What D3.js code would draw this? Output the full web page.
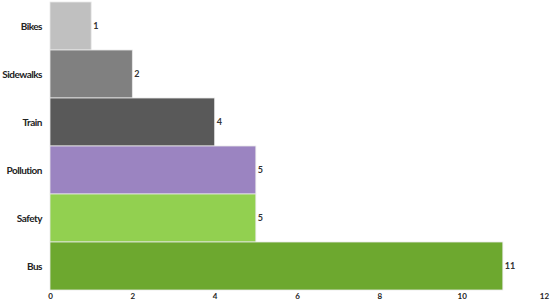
<!DOCTYPE html>
<html lang="en">
<head>
    <meta charset="UTF-8">
    <title>Bar Chart</title>
    <script src="https://d3js.org/d3.v7.min.js"></script>
    <style>
        body { margin: 0; background: #fff; font-family: Lato, "Open Sans", sans-serif; }
        svg { display: block; }
    </style>
</head>
<body>
    <svg id="chart" width="550" height="307"></svg>
    <script>
        const categories = ["Bikes", "Sidewalks", "Train", "Pollution", "Safety", "Bus"];
        const values = [1, 2, 4, 5, 5, 11];
        const colors = ["#c0c0c0", "#808080", "#595959", "#9b84c1", "#92d050", "#6da82f"];
        const xTicks = [0, 2, 4, 6, 8, 10, 12];

        const svg = d3.select("#chart");
        const plotLeft = 50, plotRight = 544, plotTop = 2, plotBottom = 290;

        const x = d3.scaleLinear().domain([0, 12]).range([plotLeft, plotRight]);
        const y = d3.scaleBand().domain(categories).range([plotTop, plotBottom]).padding(0);

        const data = categories.map((c, i) => ({ cat: c, value: values[i], color: colors[i] }));

        svg.selectAll("rect.bar")
            .data(data)
            .enter()
            .append("rect")
            .attr("class", "bar")
            .attr("x", x(0))
            .attr("y", d => y(d.cat))
            .attr("width", d => x(d.value) - x(0))
            .attr("height", y.bandwidth())
            .style("fill", d => d.color)
            .style("stroke", "#e8e8e8")
            .style("stroke-width", 0.8);

        svg.selectAll("text.cat")
            .data(data)
            .enter()
            .append("text")
            .attr("class", "cat")
            .attr("x", 42)
            .attr("y", d => y(d.cat) + y.bandwidth() / 2)
            .attr("dy", "0.35em")
            .attr("text-anchor", "end")
            .style("font-size", "10px")
            .style("font-weight", "bold")
            .style("letter-spacing", "-0.5px")
            .style("fill", "#222")
            .text(d => d.cat);

        svg.selectAll("text.val")
            .data(data)
            .enter()
            .append("text")
            .attr("class", "val")
            .attr("x", d => x(d.value) + 2)
            .attr("y", d => y(d.cat) + y.bandwidth() / 2)
            .attr("dy", "0.35em")
            .style("font-size", "9px")
            .style("font-weight", "bold")
            .style("fill", "#333")
            .text(d => d.value);

        const axis = d3.axisBottom(x).tickValues(xTicks).tickSize(0).tickPadding(0);
        const g = svg.append("g")
            .attr("transform", `translate(0, ${plotBottom + 3})`)
            .call(axis);
        g.select(".domain").remove();
        g.selectAll("text")
            .attr("dy", "0.71em")
            .style("font-family", "Lato, sans-serif")
            .style("font-size", "8px")
            .style("font-weight", "bold")
            .style("fill", "#222");
    </script>
</body>
</html>
